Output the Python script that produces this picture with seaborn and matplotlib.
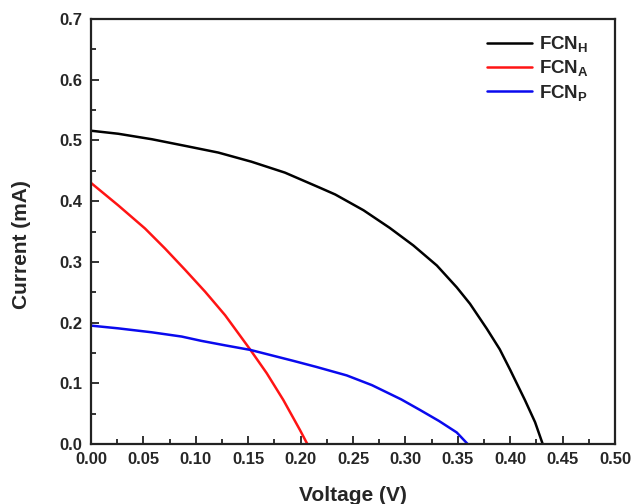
import matplotlib
matplotlib.use("Agg")
import matplotlib.pyplot as plt
from matplotlib.ticker import MultipleLocator, FormatStrFormatter
import numpy as np
import pandas as pd
import seaborn as sns

# I-V curves of the three cells
v_h = [0.0, 0.026, 0.058, 0.09, 0.1215, 0.153, 0.185, 0.2185, 0.233, 0.260, 0.285,
       0.3076, 0.330, 0.349, 0.3616, 0.3776, 0.390, 0.400, 0.414, 0.4237, 0.431]
i_h = [0.516, 0.511, 0.502, 0.491, 0.480, 0.465, 0.447, 0.422, 0.411, 0.385, 0.356,
       0.327, 0.294, 0.258, 0.231, 0.190, 0.156, 0.122, 0.0725, 0.036, 0.0]

v_a = [0.0, 0.026, 0.0515, 0.0706, 0.0897, 0.1088, 0.1167, 0.128, 0.1517, 0.1677,
       0.1835, 0.1994, 0.2064]
i_a = [0.430, 0.393, 0.355, 0.322, 0.287, 0.251, 0.235, 0.212, 0.156, 0.1165,
       0.0725, 0.023, 0.0]

v_p = [0.0, 0.026, 0.058, 0.0865, 0.105, 0.128, 0.152, 0.193, 0.215, 0.244, 0.268,
       0.296, 0.314, 0.332, 0.349, 0.3594]
i_p = [0.195, 0.1905, 0.184, 0.177, 0.170, 0.1625, 0.155, 0.137, 0.127, 0.113, 0.097,
       0.0735, 0.056, 0.038, 0.019, 0.0]

labels = [r"$\mathbf{FCN_H}$", r"$\mathbf{FCN_A}$", r"$\mathbf{FCN_P}$"]
colors = ["#000000", "#ff1414", "#0a0aee"]

frames = []
for lab, v, i in zip(labels, [v_h, v_a, v_p], [i_h, i_a, i_p]):
    frames.append(pd.DataFrame({"Voltage": v, "Current": i, "Sample": lab}))
df = pd.concat(frames, ignore_index=True)

sns.set_style("ticks")
plt.rcParams["font.family"] = ["Liberation Sans", "DejaVu Sans"]
plt.rcParams["font.weight"] = "bold"
plt.rcParams["mathtext.fontset"] = "custom"
plt.rcParams["mathtext.rm"] = "Liberation Sans:bold"
plt.rcParams["mathtext.bf"] = "Liberation Sans:bold"
plt.rcParams["mathtext.it"] = "Liberation Sans:bold"

fig = plt.figure(figsize=(6.33, 5.04), dpi=100)
ax = fig.add_axes([0.1438, 0.119, 0.8278, 0.8433])

sns.lineplot(data=df, x="Voltage", y="Current", hue="Sample", sort=False,
             palette=dict(zip(labels, colors)), linewidth=1.8, ax=ax,
             estimator=None, units="Sample")

ax.set_xlim(0, 0.5)
ax.set_ylim(0, 0.7)
ax.xaxis.set_major_locator(MultipleLocator(0.05))
ax.xaxis.set_minor_locator(MultipleLocator(0.025))
ax.yaxis.set_major_locator(MultipleLocator(0.1))
ax.yaxis.set_minor_locator(MultipleLocator(0.05))
ax.xaxis.set_major_formatter(FormatStrFormatter("%.2f"))
ax.yaxis.set_major_formatter(FormatStrFormatter("%.1f"))

ax.tick_params(which="both", direction="in", top=False, right=False, width=1.3,
               color="#222222")
ax.tick_params(which="major", length=6, labelsize=12, pad=6)
ax.tick_params(which="minor", length=3.5)
for lbl in ax.get_xticklabels() + ax.get_yticklabels():
    lbl.set_fontweight("bold")

for s in ax.spines.values():
    s.set_visible(True)
    s.set_linewidth(1.6)
    s.set_color("#222222")

ax.set_xlabel("Voltage (V)", fontsize=15, fontweight="bold")
ax.set_ylabel("Current (mA)", fontsize=15, fontweight="bold")
ax.xaxis.set_label_coords(0.5, -0.099)
ax.yaxis.set_label_coords(-0.114, 0.47)

leg = ax.legend(loc="upper right", frameon=False, fontsize=13.5,
                handlelength=2.4, handletextpad=0.35, labelspacing=0.22,
                borderaxespad=0.6, bbox_to_anchor=(0.985, 1.008))
for line in leg.get_lines():
    line.set_linewidth(1.8)

fig.savefig("out.png", dpi=100)
